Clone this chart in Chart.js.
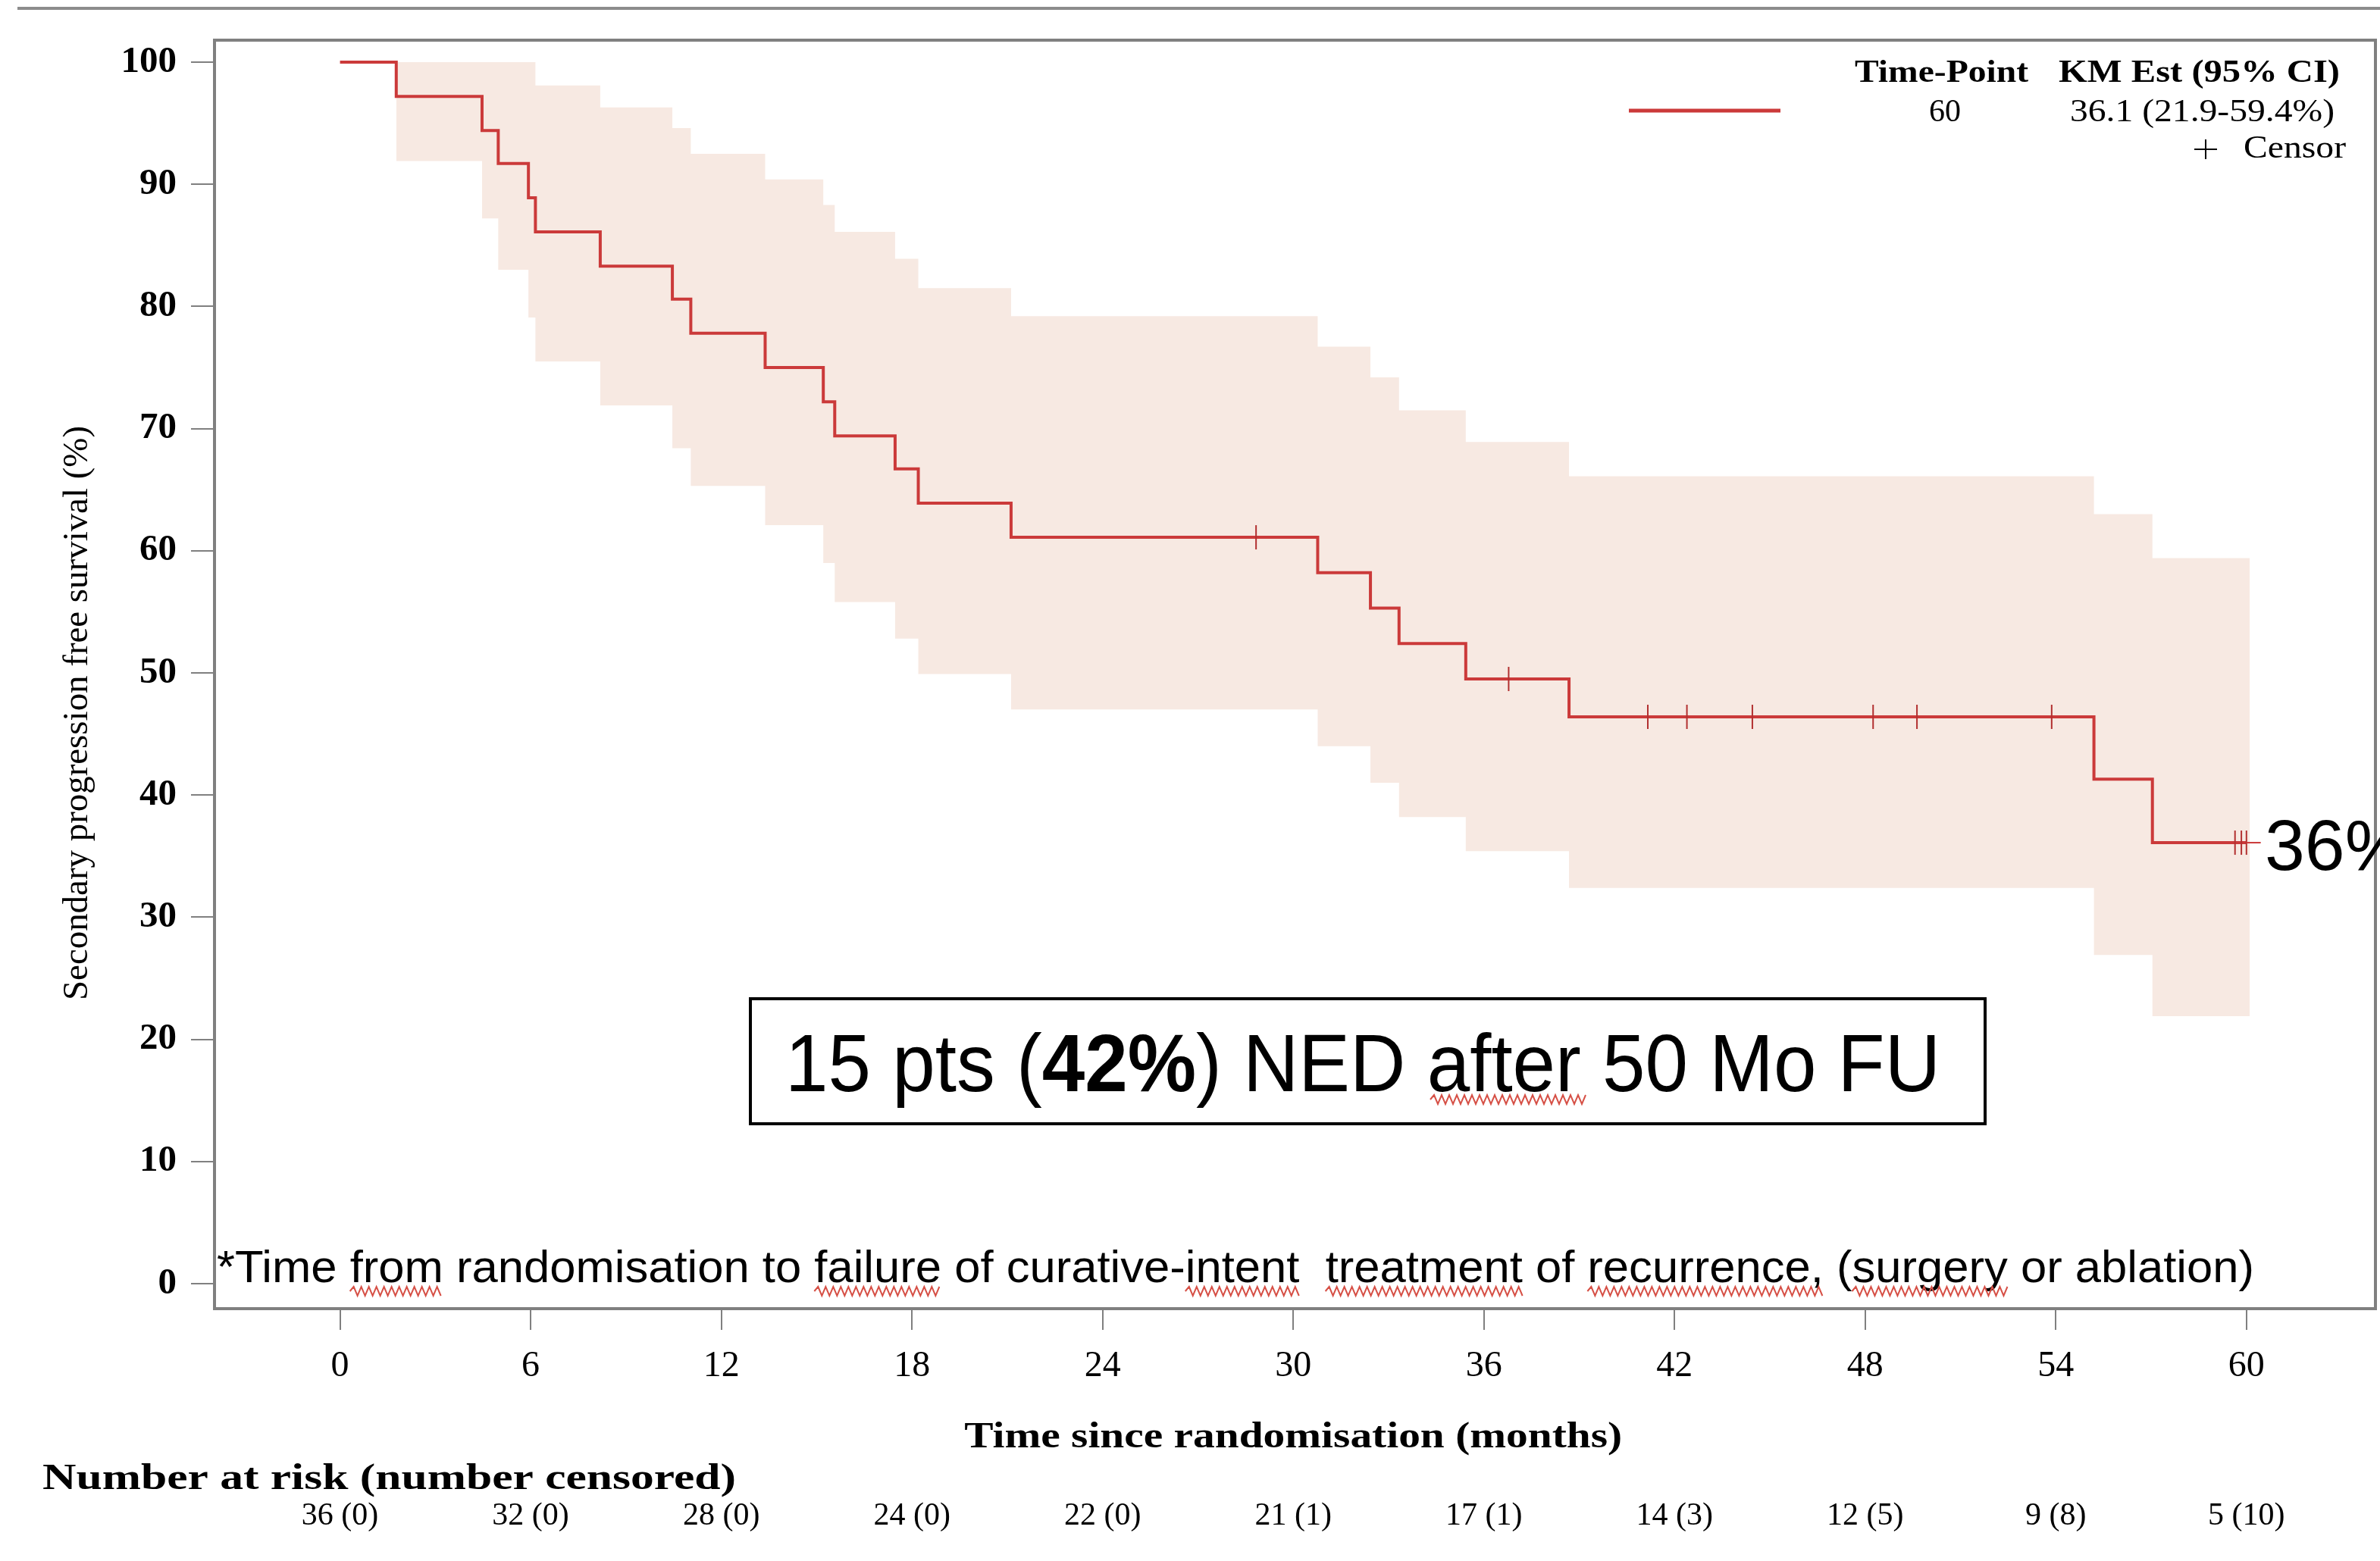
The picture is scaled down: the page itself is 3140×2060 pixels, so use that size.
<!DOCTYPE html>
<html>
<head>
<meta charset="utf-8">
<script src="https://cdn.jsdelivr.net/npm/chart.js@4.4.1/dist/chart.umd.min.js"></script>
<style>
  html, body { margin: 0; padding: 0; background: #fff; }
  #wrap { width: 3140px; height: 2060px; }
</style>
</head>
<body>
<div id="wrap"><canvas id="km" width="3140" height="2060"></canvas></div>
<script>
"use strict";

// KM estimate: time of each drop (months) and survival after it (%)
const kmTimes = [0, 1.77, 4.47, 4.98, 5.93, 6.15, 8.19, 10.46, 11.04, 13.38, 15.21, 15.57, 17.47, 18.2, 21.12, 30.77, 32.43, 33.33, 35.43, 38.68, 55.2, 57.04, 60.0];
const kmValues = [100, 97.2, 94.4, 91.7, 88.9, 86.1, 83.3, 80.6, 77.8, 75.0, 72.2, 69.4, 66.7, 63.9, 61.1, 58.2, 55.3, 52.4, 49.5, 46.4, 41.3, 36.1, 36.1];

// 95% CI band
const ciTimes = [1.77, 4.47, 4.98, 5.93, 6.15, 8.19, 10.46, 11.04, 13.38, 15.21, 15.57, 17.47, 18.2, 21.12, 30.77, 32.43, 33.33, 35.43, 38.68, 55.2, 57.04, 60.1];
const ciUpper = [100, 100, 100, 100, 98.1, 96.3, 94.6, 92.5, 90.4, 88.3, 86.1, 83.9, 81.5, 79.2, 76.7, 74.2, 71.5, 68.9, 66.1, 63.0, 59.4, 59.4];
const ciLower = [91.9, 87.2, 83.0, 79.1, 75.5, 71.9, 68.4, 65.3, 62.1, 59.0, 55.8, 52.8, 49.9, 47.0, 44.0, 41.0, 38.2, 35.4, 32.4, 26.9, 21.9, 21.9];

// censored observations
const censorTimes = [28.83, 36.78, 41.16, 42.39, 44.45, 48.25, 49.63, 53.87, 59.64, 59.84, 60.0];
const censorValues = [61.1, 49.5, 46.4, 46.4, 46.4, 46.4, 46.4, 46.4, 36.1, 36.1, 36.1];

// axes + risk table
const xTicks = [0, 6, 12, 18, 24, 30, 36, 42, 48, 54, 60];
const yTicks = [0, 10, 20, 30, 40, 50, 60, 70, 80, 90, 100];
const atRisk = [36, 32, 28, 24, 22, 21, 17, 14, 12, 9, 5];
const nCensored = [0, 0, 0, 0, 0, 1, 1, 3, 5, 8, 10];

const legendTime = "60";
const legendEst = "36.1 (21.9-59.4%)";

const RED = "rgb(203,58,58)";
const BAND = "rgb(247,233,226)";
const GRAY = "#808080";
const SERIF = '"Liberation Serif", "Times New Roman", serif';
const SANS = '"Liberation Sans", Arial, sans-serif';

const toXY = (xs, ys) => xs.map((x, i) => ({ x: x, y: ys[i] }));

// draw text stretched/condensed to a given width
function txt(ctx, s, x, y, font, align, width) {
    ctx.font = font;
    const w = ctx.measureText(s).width;
    const k = width ? width / w : 1;
    let x0 = x;
    if (align === "center") x0 = x - w * k / 2;
    else if (align === "right") x0 = x - w * k;
    ctx.save();
    ctx.translate(x0, y);
    ctx.scale(k, 1);
    ctx.textAlign = "left";
    ctx.textBaseline = "alphabetic";
    ctx.fillText(s, 0, 0);
    ctx.restore();
    return { x0: x0, k: k };
}

function zigzag(ctx, x0, x1, y) {
    ctx.save();
    ctx.strokeStyle = "rgb(214,80,70)";
    ctx.lineWidth = 2;
    ctx.beginPath();
    let up = true;
    ctx.moveTo(x0, y);
    for (let x = x0 + 5; x <= x1; x += 5) {
        ctx.lineTo(x, up ? y - 6 : y + 6);
        up = !up;
    }
    ctx.stroke();
    ctx.restore();
}

const decorations = {
    id: "decorations",
    afterDraw(chart) {
        const ctx = chart.ctx;
        const a = chart.chartArea;
        const xs = chart.scales.x;
        const ys = chart.scales.y;

        ctx.save();
        // top rule
        ctx.strokeStyle = "#8c8c8c";
        ctx.lineWidth = 4;
        ctx.beginPath();
        ctx.moveTo(23, 11);
        ctx.lineTo(3140, 11);
        ctx.stroke();

        // plot frame
        ctx.strokeStyle = GRAY;
        ctx.lineWidth = 4;
        ctx.strokeRect(a.left, a.top, a.right - a.left, a.bottom - a.top);

        // dash from last point to the 36% label
        ctx.strokeStyle = RED;
        ctx.lineWidth = 2;
        ctx.beginPath();
        ctx.moveTo(xs.getPixelForValue(60), ys.getPixelForValue(36.1));
        ctx.lineTo(xs.getPixelForValue(60.45), ys.getPixelForValue(36.1));
        ctx.stroke();

        ctx.fillStyle = "#000";

        // y title
        ctx.save();
        ctx.translate(100, 941);
        ctx.rotate(-Math.PI / 2);
        txt(ctx, "Secondary progression free survival (%)", 0, 15, "46px " + SERIF, "center", 758);
        ctx.restore();

        // x title
        txt(ctx, "Time since randomisation (months)", (xs.getPixelForValue(0) + xs.getPixelForValue(60)) / 2, 1910, "bold 48px " + SERIF, "center", 868);

        // risk table
        txt(ctx, "Number at risk (number censored)", 56, 1965, "bold 48px " + SERIF, "left", 915);
        xTicks.forEach((t, i) => {
            txt(ctx, atRisk[i] + " (" + nCensored[i] + ")", xs.getPixelForValue(t), 2012, "42px " + SERIF, "center");
        });

        // legend
        ctx.strokeStyle = RED;
        ctx.lineWidth = 5;
        ctx.beginPath();
        ctx.moveTo(2149, 146);
        ctx.lineTo(2349, 146);
        ctx.stroke();
        txt(ctx, "Time-Point", 2447, 108, "bold 42px " + SERIF, "left", 229);
        txt(ctx, "KM Est (95% CI)", 2716, 108, "bold 42px " + SERIF, "left", 371);
        txt(ctx, legendTime, 2566, 160, "42px " + SERIF, "center");
        txt(ctx, legendEst, 2731, 160, "42px " + SERIF, "left", 349);
        ctx.strokeStyle = "#000";
        ctx.lineWidth = 2;
        ctx.beginPath();
        ctx.moveTo(2895, 197);
        ctx.lineTo(2925, 197);
        ctx.moveTo(2910, 184);
        ctx.lineTo(2910, 210);
        ctx.stroke();
        txt(ctx, "Censor", 2960, 208, "42px " + SERIF, "left", 135);

        // 36% label
        txt(ctx, "36%", 2988, 1148, "95px " + SANS, "left");

        // annotation box
        ctx.strokeStyle = "#000";
        ctx.lineWidth = 4;
        ctx.strokeRect(990, 1318, 1629, 165);
        const parts = [["15 pts (", false], ["42%", true], [") NED after 50 Mo FU", false]];
        let total = 0;
        parts.forEach(p => {
            ctx.font = (p[1] ? "bold " : "") + "107px " + SANS;
            total += ctx.measureText(p[0]).width;
        });
        const kBox = 1524 / total;
        let bx = 1036;
        parts.forEach(p => {
            const f = (p[1] ? "bold " : "") + "107px " + SANS;
            ctx.font = f;
            const w = ctx.measureText(p[0]).width * kBox;
            txt(ctx, p[0], bx, 1440, f, "left", w);
            bx += w;
        });
        zigzag(ctx, 1887, 2093, 1451);

        // footnote
        const note = "*Time from randomisation to failure of curative-intent  treatment of recurrence, (surgery or ablation)";
        const nFont = "60px " + SANS;
        const r = txt(ctx, note, 286, 1692, nFont, "left", 2688);
        ctx.font = nFont;
        let from = 0;
        ["from", "failure", "intent", "treatment", "recurrence,", "surgery"].forEach(wd => {
            const i = note.indexOf(wd, from);
            from = i + wd.length;
            const s = r.x0 + ctx.measureText(note.slice(0, i)).width * r.k;
            const e = r.x0 + ctx.measureText(note.slice(0, i + wd.length)).width * r.k;
            zigzag(ctx, s, e, 1704);
        });

        ctx.restore();
    }
};

new Chart(document.getElementById("km"), {
    type: "scatter",
    data: {
        datasets: [
            {
                label: "Censor",
                data: toXY(censorTimes, censorValues),
                showLine: false,
                pointStyle: "line",
                rotation: 90,
                pointRadius: 16,
                pointBorderWidth: 2,
                borderColor: "rgb(178,48,48)",
                backgroundColor: "rgb(178,48,48)"
            },
            {
                label: "KM",
                data: toXY(kmTimes, kmValues),
                showLine: true,
                stepped: true,
                borderColor: RED,
                borderWidth: 4,
                pointRadius: 0,
                fill: false
            },
            {
                label: "upper",
                data: toXY(ciTimes, ciUpper),
                showLine: true,
                stepped: true,
                borderColor: "rgba(0,0,0,0)",
                borderWidth: 0,
                pointRadius: 0,
                backgroundColor: BAND,
                fill: "+1"
            },
            {
                label: "lower",
                data: toXY(ciTimes, ciLower),
                showLine: true,
                stepped: true,
                borderColor: "rgba(0,0,0,0)",
                borderWidth: 0,
                pointRadius: 0,
                fill: false
            }
        ]
    },
    options: {
        responsive: false,
        devicePixelRatio: 1,
        animation: false,
        events: [],
        layout: { autoPadding: false, padding: { top: 53, right: 6, left: 0, bottom: 0 } },
        plugins: {
            legend: { display: false },
            tooltip: { enabled: false }
        },
        scales: {
            x: {
                type: "linear",
                min: -3.95,
                max: 64.06,
                afterBuildTicks: s => { s.ticks = xTicks.map(v => ({ value: v })); },
                afterFit: s => {
                    s.height = 2060 - 1727;
                    s.paddingLeft = 0;
                    s.paddingRight = 0;
                },
                border: { display: false },
                grid: { drawOnChartArea: false, drawTicks: true, tickLength: 28, color: GRAY, lineWidth: 2 },
                ticks: { color: "#000", font: { family: SERIF, size: 48 }, padding: 20, maxRotation: 0, autoSkip: false }
            },
            y: {
                min: -2.05,
                max: 101.8,
                afterBuildTicks: s => { s.ticks = yTicks.map(v => ({ value: v })); },
                afterFit: s => {
                    s.width = 283;
                    s.paddingTop = 0;
                    s.paddingBottom = 0;
                },
                border: { display: false },
                grid: { drawOnChartArea: false, drawTicks: true, tickLength: 31, color: GRAY, lineWidth: 2 },
                ticks: { color: "#000", font: { family: SERIF, size: 49, weight: "bold" }, padding: 19, autoSkip: false }
            }
        }
    },
    plugins: [decorations]
});
</script>
</body>
</html>
